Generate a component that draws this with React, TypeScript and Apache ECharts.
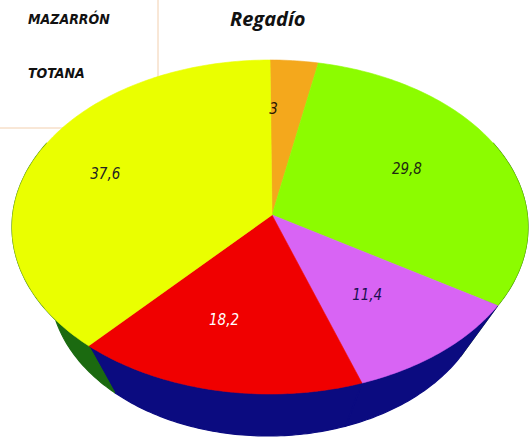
import React, { useEffect, useRef } from "react";
import * as echarts from "echarts";

// ---- data ----
const sliceNames = ["Sector 1", "Sector 2", "Sector 3", "Sector 4", "Sector 5"];
const sliceValues = [3, 29.8, 11.4, 18.2, 37.6];
const legendLabels = ["MAZARRÓN", "TOTANA"];
const chartTitle = "Regadío";

// ---- styles ----
const topColors = ["#f4a81c", "#8cfc00", "#d864f4", "#f00000", "#eaff00"];
const sideColors = ["#8a5a00", "#2a6a00", "#0b0b80", "#0b0b80", "#1b6a10"];
const labelColors = ["#2a1800", "#1e2a10", "#1a1050", "#ffffff", "#222222"];
const FONT = "'DejaVu Sans Condensed', 'Liberation Sans', 'Noto Sans', sans-serif";

const CX = 270, CY = 227, RX = 258, RY = 167;
const BCX = 268, BCY = 286, BRX = 218, BRY = 150;
const APEX = [272, 215];
const LABEL_SHIFT_X = -14;

const total = sliceValues.reduce((a, b) => a + b, 0);
const cum: number[] = [0];
sliceValues.forEach((v, i) => cum.push(cum[i] + v));

const rad = (d: number) => (d * Math.PI) / 180;
const topPt = (a: number) => [CX + RX * Math.sin(rad(a)), CY - RY * Math.cos(rad(a))];
const botPt = (a: number) => [BCX + BRX * Math.sin(rad(a)), BCY - BRY * Math.cos(rad(a))];

function angles(i: number) {
  return [(cum[i] / total) * 360, (cum[i + 1] / total) * 360];
}

export default function App() {
  const ref = useRef<HTMLDivElement>(null);
  useEffect(() => {
    if (!ref.current) return;
    const chart = echarts.init(ref.current, null, { renderer: "svg" });
    const seriesData = sliceValues.map((v, i) => ({ name: sliceNames[i], value: v }));
    chart.setOption({
      animation: false,
      backgroundColor: "#ffffff",
      title: {
        text: chartTitle,
        left: 225,
        top: 3,
        textStyle: {
          fontFamily: "Open Sans",
          fontStyle: "italic",
          fontWeight: "bold",
          fontSize: 20,
          color: "#111111",
        },
      },
      graphic: [
        {
          type: "rect",
          z: 0,
          shape: { x: -1, y: -1, width: 159, height: 129 },
          style: { fill: "none", stroke: "#f2cfae", lineWidth: 1 },
        },
        ...legendLabels.map((t, k) => ({
          type: "text",
          z: 0,
          left: 28,
          top: 12 + k * 54,
          style: {
            text: t,
            fontFamily: FONT,
            fontStyle: "italic",
            fontWeight: "bold",
            fontSize: 14,
            fill: "#111111",
          },
        })),
      ],
      series: [
        {
          type: "custom",
          coordinateSystem: "none",
          z: 1,
          silent: true,
          data: seriesData,
          renderItem: (params: any) => {
            const i = params.dataIndex;
            let [a0, a1] = angles(i);
            a0 = Math.max(a0, 60);
            a1 = Math.min(a1, 300);
            if (a1 <= a0) return { type: "group", children: [] };
            const pts: number[][] = [];
            for (let a = a0; a < a1; a += 1) pts.push(topPt(a));
            pts.push(topPt(a1));
            for (let a = a1; a > a0; a -= 1) pts.push(botPt(a));
            pts.push(botPt(a0));
            return {
              type: "polygon",
              shape: { points: pts },
              style: { fill: sideColors[i], stroke: sideColors[i], lineWidth: 1.2 },
            };
          },
        },
        {
          type: "custom",
          coordinateSystem: "none",
          z: 2,
          silent: true,
          data: seriesData,
          renderItem: (params: any) => {
            const i = params.dataIndex;
            const [a0, a1] = angles(i);
            const pts: number[][] = [APEX];
            for (let a = a0; a < a1; a += 1) pts.push(topPt(a));
            pts.push(topPt(a1));
            const mid = (a0 + a1) / 2;
            const f = 0.64;
            const lx = APEX[0] + LABEL_SHIFT_X + f * RX * Math.sin(rad(mid));
            const ly = APEX[1] - f * RY * Math.cos(rad(mid));
            return {
              type: "group",
              children: [
                {
                  type: "polygon",
                  shape: { points: pts },
                  style: { fill: topColors[i], stroke: topColors[i], lineWidth: 0.6 },
                },
                {
                  type: "text",
                  z2: 10,
                  style: {
                    text: String(sliceValues[i]).replace(".", ","),
                    x: lx,
                    y: ly,
                    align: "center",
                    verticalAlign: "middle",
                    fontFamily: FONT,
                    fontStyle: "italic",
                    fontSize: 15,
                    fill: labelColors[i],
                  },
                },
              ],
            };
          },
        },
      ],
    });
    return () => chart.dispose();
  }, []);
  return (
    <div
      ref={ref}
      style={{ position: "fixed", left: 0, top: 0, width: 529, height: 437 }}
    />
  );
}
